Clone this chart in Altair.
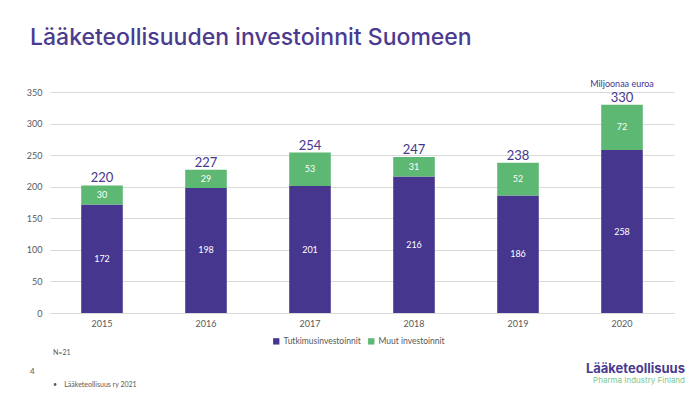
import altair as alt
import pandas as pd

years = ["2015", "2016", "2017", "2018", "2019", "2020"]
tutkimus = [172, 198, 201, 216, 186, 258]
muut = [30, 29, 53, 31, 52, 72]
totals = [220, 227, 254, 247, 238, 330]
series = ["Tutkimusinvestoinnit", "Muut investoinnit"]
colors = ["#46368E", "#5CB873"]
y_ticks = [0, 50, 100, 150, 200, 250, 300, 350]

title_text = "Lääketeollisuuden investoinnit Suomeen"
unit_text = "Miljoonaa euroa"
n_text = "N=21"
page_text = "4"
source_text = "•\u00a0\u00a0\u00a0\u00a0Lääketeollisuus ry 2021"
logo_text = "Lääketeollisuus"
logo_sub = "Pharma Industry Finland"

PURPLE = "#46368E"
GREY = "#595959"
FONT = "Lato"

long = pd.DataFrame({
    "year": years * 2,
    "series": [series[0]] * len(years) + [series[1]] * len(years),
    "value": tutkimus + muut,
    "order": [0] * len(years) + [1] * len(years),
})
tot = pd.DataFrame({
    "year": years,
    "top": [a + b for a, b in zip(tutkimus, muut)],
    "label": totals,
})

xscale = alt.Scale(paddingInner=0.6, paddingOuter=0.3)
xaxis = alt.Axis(title=None, labelAngle=0, ticks=False, domainColor="#d9d9d9",
                 labelColor=GREY, labelFontSize=9, labelPadding=6, labelFont=FONT)
yscale = alt.Scale(domain=[0, 350])
yaxis = alt.Axis(values=y_ticks, title=None, ticks=False, domain=False,
                 gridColor="#d9d9d9", labelColor=GREY, labelFontSize=9,
                 labelPadding=8, labelFont=FONT)

bars = alt.Chart(long).mark_bar().encode(
    x=alt.X("year:N", scale=xscale, axis=xaxis),
    y=alt.Y("value:Q", stack="zero", scale=yscale, axis=yaxis),
    color=alt.Color("series:N", scale=alt.Scale(domain=series, range=colors),
                    legend=alt.Legend(title=None, orient="none", legendX=222, legendY=245,
                                      direction="horizontal", symbolType="square",
                                      symbolSize=40, symbolStrokeWidth=0,
                                      labelFontSize=8.5, labelColor=GREY, labelFont=FONT,
                                      labelOffset=3, columnPadding=6)),
    order=alt.Order("order:Q"),
)

seg = alt.Chart(long).transform_stack(
    stack="value", groupby=["year"], as_=["y0", "y1"], sort=[alt.SortField("order")]
).transform_calculate(mid="(datum.y0 + datum.y1) / 2").mark_text(
    color="white", fontSize=9, font=FONT
).encode(
    x=alt.X("year:N", scale=xscale, axis=xaxis),
    y=alt.Y("mid:Q", scale=yscale, axis=yaxis),
    text="value:Q",
)

tot_text = alt.Chart(tot).mark_text(
    color=PURPLE, fontSize=13, font=FONT, baseline="bottom", dy=0
).encode(
    x=alt.X("year:N", scale=xscale, axis=xaxis),
    y=alt.Y("top:Q", scale=yscale, axis=yaxis),
    text="label:Q",
)


def note(txt, x, y, **kw):
    return alt.Chart(pd.DataFrame({"t": [txt]})).mark_text(**kw).encode(
        text="t:N", x=alt.value(x), y=alt.value(y))


title = note(title_text, -20, -54, align="left", baseline="middle", fontSize=23,
             font="Inter", fontWeight=500, color="#4B3B8F")
unit = note(unit_text, 572, -8, align="center", baseline="middle", fontSize=9,
            font=FONT, color=PURPLE)
nn = note(n_text, 3, 261, align="left", baseline="middle", fontSize=7, font=FONT, color=GREY)
pg = note(page_text, -20, 280, align="left", baseline="middle", fontSize=8, font=FONT, color=GREY)
src = note(source_text, 3, 293, align="left", baseline="middle", fontSize=7, font=FONT, color=GREY)
logo = note(logo_text, 635, 277, align="right", baseline="middle", fontSize=13, font="Inter",
            fontWeight=700, color="#4B3B8F")
logo2 = note(logo_sub, 635, 289, align="right", baseline="middle", fontSize=8, font="Inter",
             color="#7CC88C")

chart = alt.layer(bars, seg, tot_text, title, unit, nn, pg, src, logo, logo2).properties(
    width=624, height=221, autosize="none",
    padding={"left": 42, "top": 84, "right": 14, "bottom": 78},
).configure_view(stroke=None)

chart.save("out.html", embed_options={"renderer": "svg", "actions": False})
